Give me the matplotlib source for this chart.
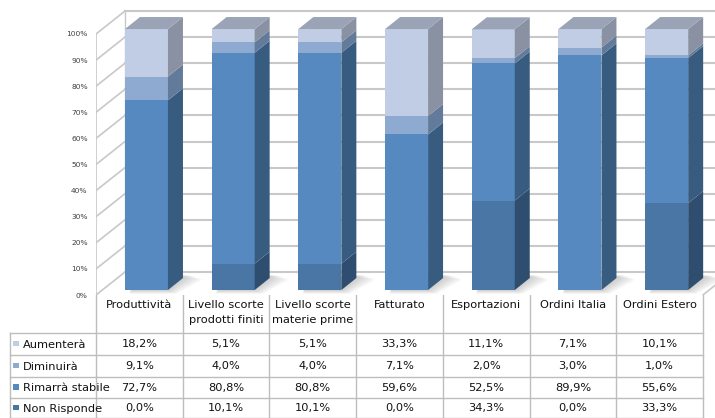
import numpy as np
import matplotlib
matplotlib.use('Agg')
import matplotlib.pyplot as plt
from matplotlib.patches import Polygon, Rectangle

plt.rcParams['font.family'] = ['Liberation Sans Narrow', 'DejaVu Sans']

categories = ['Produttività', 'Livello scorte\nprodotti finiti', 'Livello scorte\nmaterie prime',
              'Fatturato', 'Esportazioni', 'Ordini Italia', 'Ordini Estero']
series_names = ['Aumenterà', 'Diminuirà', 'Rimarrà stabile', 'Non Risponde']
aumentera = [18.2, 5.1, 5.1, 33.3, 11.1, 7.1, 10.1]
diminuira = [9.1, 4.0, 4.0, 7.1, 2.0, 3.0, 1.0]
stabile = [72.7, 80.8, 80.8, 59.6, 52.5, 89.9, 55.6]
non_risponde = [0.0, 10.1, 10.1, 0.0, 34.3, 0.0, 33.3]
y_ticks = list(range(0, 101, 10))

# front / side colours per series
front = {'Aumenterà': '#c1cde4', 'Diminuirà': '#8eaad0',
         'Rimarrà stabile': '#5589bf', 'Non Risponde': '#4a76a5'}
side = {'Aumenterà': '#8991a3', 'Diminuirà': '#637b9a',
        'Rimarrà stabile': '#385c80', 'Non Risponde': '#2f4e6f'}
top_col = '#9ba4b6'

W, H = 715, 418
fig = plt.figure(figsize=(W / 100, H / 100), dpi=100)

col_px = 86.7          # width of one category column
x0_px = 96             # left edge of plot / first column
floor_px = 295         # y of the 0% line
unit_px = 2.61         # pixels per percent
xmax = (W - x0_px) / col_px - 0.5
ymax = floor_px / unit_px

ax = fig.add_axes([x0_px / W, (H - floor_px) / H, (W - x0_px) / W, floor_px / H])
ax.set_xlim(-0.5, xmax)
ax.set_ylim(0, ymax)
for s in ax.spines.values():
    s.set_visible(False)
ax.set_xticks([])
ax.set_yticks(y_ticks)
ax.set_yticklabels([f'{t}%' for t in y_ticks], fontsize=5.4, color='#404040', family='DejaVu Sans')
ax.tick_params(axis='y', length=0, pad=6)

# 3D walls
wdx, wdy = 0.334, 8.8
grid_c = '#c8c8c8'
xl = -0.5
ax.plot([xl, xl], [0, 100], color=grid_c, lw=1.2, zorder=1)
ax.plot([xl + wdx, xl + wdx], [wdy, 100 + wdy], color=grid_c, lw=1.0, zorder=1)
for t in y_ticks:
    ax.plot([xl, xl + wdx], [t, t + wdy], color=grid_c, lw=1.2, zorder=1)
    ax.plot([xl + wdx, xmax], [t + wdy, t + wdy], color=grid_c, lw=1.5, zorder=1)
ax.plot([6.5, 6.5 + wdx], [0, wdy], color=grid_c, lw=1.2, zorder=1)

# bars
bw, shift, base = 0.496, 0.082, 1.9
ddx, ddy = 0.173, 4.6
stack = [('Non Risponde', non_risponde), ('Rimarrà stabile', stabile),
         ('Diminuirà', diminuira), ('Aumenterà', aumentera)]

for i in range(len(categories)):
    left = i + shift - bw / 2
    right = left + bw
    # soft shadow on the floor, built from growing translucent layers
    for g in np.linspace(0.16, 0.01, 8):
        ax.add_patch(Polygon([(left + 0.05, base - g * 9), (right + g * 0.6, base - g * 9),
                              (right + ddx + g * 1.4, base + ddy - g * 4),
                              (right + ddx + g * 0.5, base + ddy + 1.0), (left + ddx, base + ddy)],
                             closed=True, facecolor='#666666', alpha=0.045, lw=0, zorder=2))
    bottom = base
    for name, vals in stack:
        v = vals[i]
        if v <= 0:
            continue
        ax.bar(left, v, width=bw, bottom=bottom, align='edge', color=front[name], lw=0, zorder=3)
        ax.add_patch(Polygon([(right, bottom), (right + ddx, bottom + ddy),
                              (right + ddx, bottom + v + ddy), (right, bottom + v)],
                             closed=True, facecolor=side[name], lw=0, zorder=3))
        bottom += v
    ax.add_patch(Polygon([(left, bottom), (right, bottom), (right + ddx, bottom + ddy),
                          (left + ddx, bottom + ddy)],
                         closed=True, facecolor=top_col, lw=0, zorder=3))

# data table
tab = fig.add_axes([0, 0, 1, (H - floor_px) / H])
tab.set_xlim(-x0_px / col_px - 0.5, xmax)
tab.set_ylim(H - floor_px, 0)
tab.axis('off')
line_c = '#bdbdbd'
row_edges = [0, 38, 60, 82, 103, 123]
lab_left = (10 - x0_px) / col_px - 0.5
n = len(categories)

for j in range(n + 1):
    tab.plot([j - 0.5, j - 0.5], [0, row_edges[-1]], color=line_c, lw=1.0)
tab.plot([lab_left, lab_left], [row_edges[1], row_edges[-1]], color=line_c, lw=1.0)
for r in row_edges[1:]:
    tab.plot([lab_left, n - 0.5], [r, r], color=line_c, lw=1.0)

for j, c in enumerate(categories):
    tab.text(j, 5.5, c, ha='center', va='top', fontsize=8.2, color='#111111', linespacing=1.55)

rows = [aumentera, diminuira, stabile, non_risponde]
for r, (name, vals) in enumerate(zip(series_names, rows)):
    yc = (row_edges[r + 1] + row_edges[r + 2]) / 2
    tab.add_patch(Rectangle((lab_left + 0.035, yc - 3.5), 0.07, 5.5, facecolor=front[name], lw=0))
    tab.text(lab_left + 0.15, yc + 0.5, name, ha='left', va='center', fontsize=8.2, color='#111111')
    for j, v in enumerate(vals):
        tab.text(j, yc + 0.5, f'{v:.1f}%'.replace('.', ','), ha='center', va='center',
                 fontsize=8.2, color='#111111')

fig.savefig('out.png', dpi=100)
